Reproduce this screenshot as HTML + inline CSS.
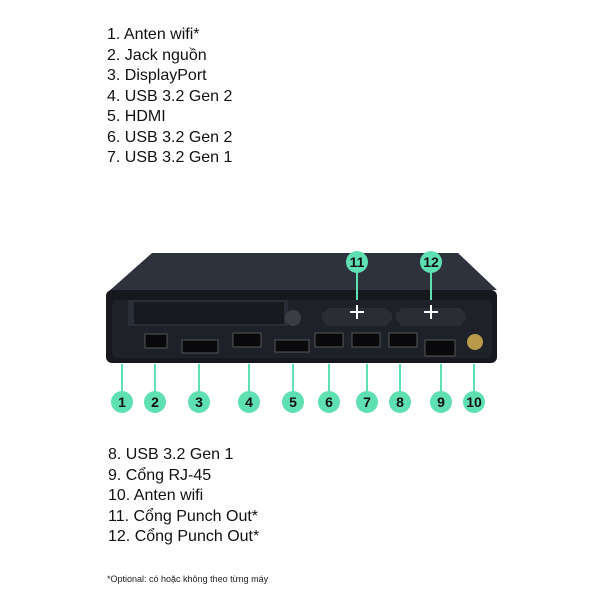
<!DOCTYPE html>
<html><head><meta charset="utf-8"><style>
body{margin:0;width:600px;height:600px;background:#fff;overflow:hidden;font-family:"Liberation Sans","DejaVu Sans",sans-serif;}
.t{position:absolute;left:107px;font-size:16px;line-height:20.5px;color:#111;}
</style></head><body>
<div class="t" style="top:25px;left:107px">1. Anten wifi*<br>2. Jack nguồn<br>3. DisplayPort<br>4. USB 3.2 Gen 2<br>5. HDMI<br>6. USB 3.2 Gen 2<br>7. USB 3.2 Gen 1</div>
<div class="t" style="top:445px;left:108px">8. USB 3.2 Gen 1<br>9. Cổng RJ-45<br>10. Anten wifi<br>11. Cổng Punch Out*<br>12. Cổng Punch Out*</div>
<div style="position:absolute;left:107px;top:574px;font-size:9px;color:#222">*Optional: có hoặc không theo từng máy</div>
<svg width="600" height="600" style="position:absolute;left:0;top:0">
<polygon points="108,292 152,253 458,253 497,290" fill="#2e323d"/>
<rect x="106" y="290" width="391" height="73" rx="6" fill="#16181d"/>
<rect x="112" y="300" width="380" height="58" rx="5" fill="#1e2127"/>
<rect x="128" y="300" width="160" height="26" fill="#2a2e36"/>
<rect x="134" y="302" width="150" height="22" fill="#0c0d10" opacity="0.6"/>
<circle cx="293" cy="318" r="8" fill="#3a3d44"/>
<path d="M328,308 h58 l6,6 v6 l-6,6 h-58 l-6,-6 v-6z" fill="#2a2d34"/>
<path d="M402,308 h58 l6,6 v6 l-6,6 h-58 l-6,-6 v-6z" fill="#2a2d34"/>
<g fill="#0a0a0c" stroke="#555" stroke-width="1">
<rect x="145" y="334" width="22" height="14"/>
<rect x="182" y="340" width="36" height="13"/>
<rect x="233" y="333" width="28" height="14"/>
<rect x="275" y="340" width="34" height="12"/>
<rect x="315" y="333" width="28" height="14"/>
<rect x="352" y="333" width="28" height="14"/>
<rect x="389" y="333" width="28" height="14"/>
<rect x="425" y="340" width="30" height="16"/>
</g>
<circle cx="475" cy="342" r="8" fill="#b89a4a"/>
<g stroke="#5fe0b2" stroke-width="2">
<line x1="122" y1="364" x2="122" y2="392"/><line x1="155" y1="364" x2="155" y2="392"/>
<line x1="199" y1="364" x2="199" y2="392"/><line x1="249" y1="364" x2="249" y2="392"/>
<line x1="293" y1="364" x2="293" y2="392"/><line x1="329" y1="364" x2="329" y2="392"/>
<line x1="367" y1="364" x2="367" y2="392"/><line x1="400" y1="364" x2="400" y2="392"/>
<line x1="441" y1="364" x2="441" y2="392"/><line x1="474" y1="364" x2="474" y2="392"/>
<line x1="357" y1="270" x2="357" y2="300"/><line x1="431" y1="270" x2="431" y2="300"/>
</g>
<g stroke="#fff" stroke-width="2"><line x1="350" y1="312" x2="364" y2="312"/><line x1="357" y1="305" x2="357" y2="319"/><line x1="424" y1="312" x2="438" y2="312"/><line x1="431" y1="305" x2="431" y2="319"/></g>
<g fill="#5fe0b2">
<circle cx="122" cy="402" r="11"/><circle cx="155" cy="402" r="11"/><circle cx="199" cy="402" r="11"/><circle cx="249" cy="402" r="11"/><circle cx="293" cy="402" r="11"/><circle cx="329" cy="402" r="11"/><circle cx="367" cy="402" r="11"/><circle cx="400" cy="402" r="11"/><circle cx="441" cy="402" r="11"/><circle cx="474" cy="402" r="11"/><circle cx="357" cy="262" r="11"/><circle cx="431" cy="262" r="11"/>
</g>
<g font-family="Liberation Sans, sans-serif" font-size="14" font-weight="bold" fill="#111" text-anchor="middle">
<text x="122" y="407">1</text><text x="155" y="407">2</text><text x="199" y="407">3</text><text x="249" y="407">4</text><text x="293" y="407">5</text><text x="329" y="407">6</text><text x="367" y="407">7</text><text x="400" y="407">8</text><text x="441" y="407">9</text><text x="474" y="407">10</text><text x="357" y="267">11</text><text x="431" y="267">12</text>
</g>
</svg>
</body></html>
